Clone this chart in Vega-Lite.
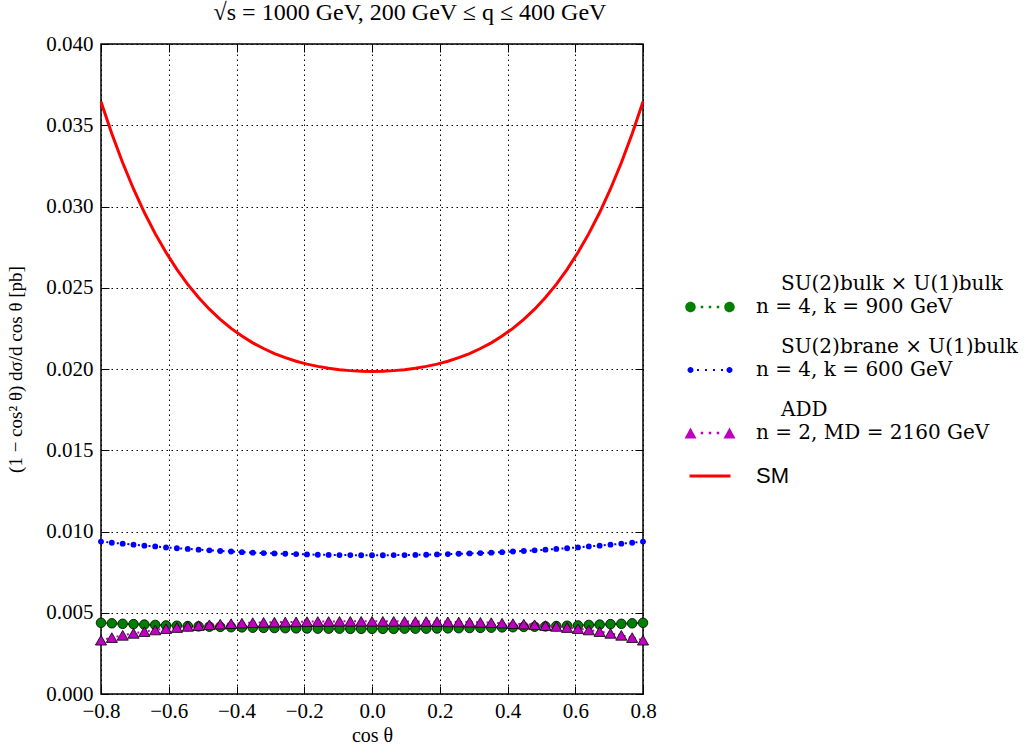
{
  "$schema": "https://vega.github.io/schema/vega-lite/v6.json",
  "width": 542,
  "height": 650,
  "autosize": "none",
  "padding": {"left": 101, "top": 44, "right": 391, "bottom": 57},
  "background": "white",
  "title": {"text": "√s = 1000 GeV, 200 GeV ≤ q ≤ 400 GeV", "font": "Liberation Serif", "fontSize": 24, "fontWeight": "normal", "color": "black", "offset": 8, "dx": 38},
  "config": {"view": {"stroke": "black", "strokeWidth": 1.5}},
  "data": {"values": [
    {"c":-0.8,"v":0.00438,"s":"bulk"},{"c":-0.768,"v":0.00435,"s":"bulk"},{"c":-0.736,"v":0.00432,"s":"bulk"},{"c":-0.704,"v":0.0043,"s":"bulk"},{"c":-0.672,"v":0.00427,"s":"bulk"},{"c":-0.64,"v":0.00425,"s":"bulk"},{"c":-0.608,"v":0.00422,"s":"bulk"},{"c":-0.576,"v":0.0042,"s":"bulk"},{"c":-0.544,"v":0.00418,"s":"bulk"},{"c":-0.512,"v":0.00416,"s":"bulk"},{"c":-0.48,"v":0.00414,"s":"bulk"},{"c":-0.448,"v":0.00413,"s":"bulk"},{"c":-0.416,"v":0.00411,"s":"bulk"},{"c":-0.384,"v":0.0041,"s":"bulk"},{"c":-0.352,"v":0.00408,"s":"bulk"},{"c":-0.32,"v":0.00407,"s":"bulk"},{"c":-0.288,"v":0.00406,"s":"bulk"},{"c":-0.256,"v":0.00405,"s":"bulk"},{"c":-0.224,"v":0.00404,"s":"bulk"},{"c":-0.192,"v":0.00403,"s":"bulk"},{"c":-0.16,"v":0.00402,"s":"bulk"},{"c":-0.128,"v":0.00402,"s":"bulk"},{"c":-0.096,"v":0.00402,"s":"bulk"},{"c":-0.064,"v":0.00401,"s":"bulk"},{"c":-0.032,"v":0.00401,"s":"bulk"},{"c":0,"v":0.00401,"s":"bulk"},{"c":0.032,"v":0.00401,"s":"bulk"},{"c":0.064,"v":0.00401,"s":"bulk"},{"c":0.096,"v":0.00402,"s":"bulk"},{"c":0.128,"v":0.00402,"s":"bulk"},{"c":0.16,"v":0.00402,"s":"bulk"},{"c":0.192,"v":0.00403,"s":"bulk"},{"c":0.224,"v":0.00404,"s":"bulk"},{"c":0.256,"v":0.00405,"s":"bulk"},{"c":0.288,"v":0.00406,"s":"bulk"},{"c":0.32,"v":0.00407,"s":"bulk"},{"c":0.352,"v":0.00408,"s":"bulk"},{"c":0.384,"v":0.0041,"s":"bulk"},{"c":0.416,"v":0.00411,"s":"bulk"},{"c":0.448,"v":0.00413,"s":"bulk"},{"c":0.48,"v":0.00414,"s":"bulk"},{"c":0.512,"v":0.00416,"s":"bulk"},{"c":0.544,"v":0.00418,"s":"bulk"},{"c":0.576,"v":0.0042,"s":"bulk"},{"c":0.608,"v":0.00422,"s":"bulk"},{"c":0.64,"v":0.00425,"s":"bulk"},{"c":0.672,"v":0.00427,"s":"bulk"},{"c":0.704,"v":0.0043,"s":"bulk"},{"c":0.736,"v":0.00432,"s":"bulk"},{"c":0.768,"v":0.00435,"s":"bulk"},{"c":0.8,"v":0.00438,"s":"bulk"},
    {"c":-0.8,"v":0.00938,"s":"brane"},{"c":-0.768,"v":0.00931,"s":"brane"},{"c":-0.736,"v":0.00925,"s":"brane"},{"c":-0.704,"v":0.00919,"s":"brane"},{"c":-0.672,"v":0.00913,"s":"brane"},{"c":-0.64,"v":0.00908,"s":"brane"},{"c":-0.608,"v":0.00902,"s":"brane"},{"c":-0.576,"v":0.00897,"s":"brane"},{"c":-0.544,"v":0.00893,"s":"brane"},{"c":-0.512,"v":0.00888,"s":"brane"},{"c":-0.48,"v":0.00884,"s":"brane"},{"c":-0.448,"v":0.0088,"s":"brane"},{"c":-0.416,"v":0.00877,"s":"brane"},{"c":-0.384,"v":0.00873,"s":"brane"},{"c":-0.352,"v":0.0087,"s":"brane"},{"c":-0.32,"v":0.00867,"s":"brane"},{"c":-0.288,"v":0.00865,"s":"brane"},{"c":-0.256,"v":0.00863,"s":"brane"},{"c":-0.224,"v":0.00861,"s":"brane"},{"c":-0.192,"v":0.00859,"s":"brane"},{"c":-0.16,"v":0.00857,"s":"brane"},{"c":-0.128,"v":0.00856,"s":"brane"},{"c":-0.096,"v":0.00855,"s":"brane"},{"c":-0.064,"v":0.00855,"s":"brane"},{"c":-0.032,"v":0.00854,"s":"brane"},{"c":0,"v":0.00854,"s":"brane"},{"c":0.032,"v":0.00854,"s":"brane"},{"c":0.064,"v":0.00855,"s":"brane"},{"c":0.096,"v":0.00855,"s":"brane"},{"c":0.128,"v":0.00856,"s":"brane"},{"c":0.16,"v":0.00857,"s":"brane"},{"c":0.192,"v":0.00859,"s":"brane"},{"c":0.224,"v":0.00861,"s":"brane"},{"c":0.256,"v":0.00863,"s":"brane"},{"c":0.288,"v":0.00865,"s":"brane"},{"c":0.32,"v":0.00867,"s":"brane"},{"c":0.352,"v":0.0087,"s":"brane"},{"c":0.384,"v":0.00873,"s":"brane"},{"c":0.416,"v":0.00877,"s":"brane"},{"c":0.448,"v":0.0088,"s":"brane"},{"c":0.48,"v":0.00884,"s":"brane"},{"c":0.512,"v":0.00888,"s":"brane"},{"c":0.544,"v":0.00893,"s":"brane"},{"c":0.576,"v":0.00897,"s":"brane"},{"c":0.608,"v":0.00902,"s":"brane"},{"c":0.64,"v":0.00908,"s":"brane"},{"c":0.672,"v":0.00913,"s":"brane"},{"c":0.704,"v":0.00919,"s":"brane"},{"c":0.736,"v":0.00925,"s":"brane"},{"c":0.768,"v":0.00931,"s":"brane"},{"c":0.8,"v":0.00938,"s":"brane"},
    {"c":-0.8,"v":0.00331,"s":"ADD"},{"c":-0.768,"v":0.00347,"s":"ADD"},{"c":-0.736,"v":0.00361,"s":"ADD"},{"c":-0.704,"v":0.00373,"s":"ADD"},{"c":-0.672,"v":0.00384,"s":"ADD"},{"c":-0.64,"v":0.00394,"s":"ADD"},{"c":-0.608,"v":0.00402,"s":"ADD"},{"c":-0.576,"v":0.00409,"s":"ADD"},{"c":-0.544,"v":0.00416,"s":"ADD"},{"c":-0.512,"v":0.00421,"s":"ADD"},{"c":-0.48,"v":0.00426,"s":"ADD"},{"c":-0.448,"v":0.0043,"s":"ADD"},{"c":-0.416,"v":0.00433,"s":"ADD"},{"c":-0.384,"v":0.00436,"s":"ADD"},{"c":-0.352,"v":0.00439,"s":"ADD"},{"c":-0.32,"v":0.00441,"s":"ADD"},{"c":-0.288,"v":0.00442,"s":"ADD"},{"c":-0.256,"v":0.00443,"s":"ADD"},{"c":-0.224,"v":0.00444,"s":"ADD"},{"c":-0.192,"v":0.00445,"s":"ADD"},{"c":-0.16,"v":0.00446,"s":"ADD"},{"c":-0.128,"v":0.00446,"s":"ADD"},{"c":-0.096,"v":0.00447,"s":"ADD"},{"c":-0.064,"v":0.00447,"s":"ADD"},{"c":-0.032,"v":0.00447,"s":"ADD"},{"c":0,"v":0.00447,"s":"ADD"},{"c":0.032,"v":0.00447,"s":"ADD"},{"c":0.064,"v":0.00447,"s":"ADD"},{"c":0.096,"v":0.00447,"s":"ADD"},{"c":0.128,"v":0.00446,"s":"ADD"},{"c":0.16,"v":0.00446,"s":"ADD"},{"c":0.192,"v":0.00445,"s":"ADD"},{"c":0.224,"v":0.00444,"s":"ADD"},{"c":0.256,"v":0.00443,"s":"ADD"},{"c":0.288,"v":0.00442,"s":"ADD"},{"c":0.32,"v":0.00441,"s":"ADD"},{"c":0.352,"v":0.00439,"s":"ADD"},{"c":0.384,"v":0.00436,"s":"ADD"},{"c":0.416,"v":0.00433,"s":"ADD"},{"c":0.448,"v":0.0043,"s":"ADD"},{"c":0.48,"v":0.00426,"s":"ADD"},{"c":0.512,"v":0.00421,"s":"ADD"},{"c":0.544,"v":0.00416,"s":"ADD"},{"c":0.576,"v":0.00409,"s":"ADD"},{"c":0.608,"v":0.00402,"s":"ADD"},{"c":0.64,"v":0.00394,"s":"ADD"},{"c":0.672,"v":0.00384,"s":"ADD"},{"c":0.704,"v":0.00373,"s":"ADD"},{"c":0.736,"v":0.00361,"s":"ADD"},{"c":0.768,"v":0.00347,"s":"ADD"},{"c":0.8,"v":0.00331,"s":"ADD"},
    {"c":-0.8,"v":0.03645,"s":"SM"},{"c":-0.768,"v":0.03448,"s":"SM"},{"c":-0.736,"v":0.03269,"s":"SM"},{"c":-0.704,"v":0.03108,"s":"SM"},{"c":-0.672,"v":0.02963,"s":"SM"},{"c":-0.64,"v":0.02833,"s":"SM"},{"c":-0.608,"v":0.02717,"s":"SM"},{"c":-0.576,"v":0.02613,"s":"SM"},{"c":-0.544,"v":0.02521,"s":"SM"},{"c":-0.512,"v":0.0244,"s":"SM"},{"c":-0.48,"v":0.02368,"s":"SM"},{"c":-0.448,"v":0.02306,"s":"SM"},{"c":-0.416,"v":0.0225,"s":"SM"},{"c":-0.384,"v":0.02203,"s":"SM"},{"c":-0.352,"v":0.02161,"s":"SM"},{"c":-0.32,"v":0.02126,"s":"SM"},{"c":-0.288,"v":0.02095,"s":"SM"},{"c":-0.256,"v":0.0207,"s":"SM"},{"c":-0.224,"v":0.02048,"s":"SM"},{"c":-0.192,"v":0.0203,"s":"SM"},{"c":-0.16,"v":0.02016,"s":"SM"},{"c":-0.128,"v":0.02004,"s":"SM"},{"c":-0.096,"v":0.01996,"s":"SM"},{"c":-0.064,"v":0.0199,"s":"SM"},{"c":-0.032,"v":0.01986,"s":"SM"},{"c":0,"v":0.01985,"s":"SM"},{"c":0.032,"v":0.01986,"s":"SM"},{"c":0.064,"v":0.0199,"s":"SM"},{"c":0.096,"v":0.01996,"s":"SM"},{"c":0.128,"v":0.02004,"s":"SM"},{"c":0.16,"v":0.02016,"s":"SM"},{"c":0.192,"v":0.0203,"s":"SM"},{"c":0.224,"v":0.02048,"s":"SM"},{"c":0.256,"v":0.0207,"s":"SM"},{"c":0.288,"v":0.02095,"s":"SM"},{"c":0.32,"v":0.02126,"s":"SM"},{"c":0.352,"v":0.02161,"s":"SM"},{"c":0.384,"v":0.02203,"s":"SM"},{"c":0.416,"v":0.0225,"s":"SM"},{"c":0.448,"v":0.02306,"s":"SM"},{"c":0.48,"v":0.02368,"s":"SM"},{"c":0.512,"v":0.0244,"s":"SM"},{"c":0.544,"v":0.02521,"s":"SM"},{"c":0.576,"v":0.02613,"s":"SM"},{"c":0.608,"v":0.02717,"s":"SM"},{"c":0.64,"v":0.02833,"s":"SM"},{"c":0.672,"v":0.02963,"s":"SM"},{"c":0.704,"v":0.03108,"s":"SM"},{"c":0.736,"v":0.03269,"s":"SM"},{"c":0.768,"v":0.03448,"s":"SM"},{"c":0.8,"v":0.03645,"s":"SM"}
  ]},
  "resolve": {"axis": {"x": "independent", "y": "independent"}},
  "layer": [
    {
      "transform": [{"filter": "datum.s === 'bulk'"}],
      "mark": {"type": "line", "strokeWidth": 2, "strokeDash": [2, 3.3], "strokeCap": "butt", "color": "#008000"},
      "encoding": {
        "x": {"field": "c", "type": "quantitative", "scale": {"domain": [-0.8, 0.8], "nice": false, "zero": false},
          "axis": {"orient": "bottom", "values": [-0.8, -0.6, -0.4, -0.2, 0, 0.2, 0.4, 0.6, 0.8], "format": ".1f", "title": "cos θ",
            "titleFont": "Liberation Serif", "titleFontSize": 20, "titleFontWeight": "normal", "titleColor": "black", "titlePadding": 4,
            "labelFont": "Liberation Serif", "labelFontSize": 21, "labelColor": "black", "labelFlush": false, "labelOverlap": false, "labelPadding": 14,
            "ticks": true, "tickSize": -8, "tickColor": "black", "tickWidth": 1, "domain": false,
            "grid": true, "gridColor": "black", "gridDash": [1.5, 3.5], "gridWidth": 1, "gridOpacity": 1}},
        "y": {"field": "v", "type": "quantitative", "scale": {"domain": [0, 0.04], "nice": false, "zero": false},
          "axis": {"orient": "left", "values": [0, 0.005, 0.01, 0.015, 0.02, 0.025, 0.03, 0.035, 0.04], "format": ".3f", "title": "(1 − cos² θ) dσ/d cos θ [pb]",
            "titleFont": "Liberation Serif", "titleFontSize": 19, "titleFontWeight": "normal", "titleColor": "black", "titlePadding": 20,
            "labelFont": "Liberation Serif", "labelFontSize": 21, "labelColor": "black", "labelFlush": false, "labelOverlap": false, "labelPadding": 16,
            "ticks": true, "tickSize": -8, "tickColor": "black", "tickWidth": 1, "domain": false,
            "grid": true, "gridColor": "black", "gridDash": [1.5, 3.5], "gridWidth": 1, "gridOpacity": 1}}
      }
    },
    {
      "transform": [{"filter": "datum.s === 'bulk'"}],
      "mark": {"type": "point", "shape": "circle", "filled": true, "fill": "#008000", "stroke": "black", "strokeWidth": 0.8, "size": 92, "opacity": 1},
      "encoding": {
        "x": {"field": "c", "type": "quantitative",
          "axis": {"orient": "top", "values": [-0.8, -0.6, -0.4, -0.2, 0, 0.2, 0.4, 0.6, 0.8], "labels": false, "title": null, "grid": false, "domain": false, "ticks": true, "tickSize": -8, "tickColor": "black", "tickWidth": 1}},
        "y": {"field": "v", "type": "quantitative",
          "axis": {"orient": "right", "values": [0, 0.005, 0.01, 0.015, 0.02, 0.025, 0.03, 0.035, 0.04], "labels": false, "title": null, "grid": false, "domain": false, "ticks": true, "tickSize": -8, "tickColor": "black", "tickWidth": 1}}
      }
    },
    {
      "transform": [{"filter": "datum.s === 'brane'"}],
      "mark": {"type": "line", "strokeWidth": 2, "strokeDash": [2, 3.3], "strokeCap": "butt", "color": "#0000ff"},
      "encoding": {
        "x": {"field": "c", "type": "quantitative", "axis": null},
        "y": {"field": "v", "type": "quantitative", "axis": null}
      }
    },
    {
      "transform": [{"filter": "datum.s === 'brane'"}],
      "mark": {"type": "point", "shape": "circle", "filled": true, "fill": "#0000ff", "strokeWidth": 0, "size": 34, "opacity": 1},
      "encoding": {
        "x": {"field": "c", "type": "quantitative", "axis": null},
        "y": {"field": "v", "type": "quantitative", "axis": null}
      }
    },
    {
      "transform": [{"filter": "datum.s === 'ADD'"}],
      "mark": {"type": "line", "strokeWidth": 2, "strokeDash": [2, 3.3], "strokeCap": "butt", "color": "#bf00bf"},
      "encoding": {
        "x": {"field": "c", "type": "quantitative", "axis": null},
        "y": {"field": "v", "type": "quantitative", "axis": null}
      }
    },
    {
      "transform": [{"filter": "datum.s === 'ADD'"}],
      "mark": {"type": "point", "shape": "triangle-up", "filled": true, "fill": "#bf00bf", "stroke": "black", "strokeWidth": 0.8, "size": 125, "opacity": 1},
      "encoding": {
        "x": {"field": "c", "type": "quantitative", "axis": null},
        "y": {"field": "v", "type": "quantitative", "axis": null}
      }
    },
    {
      "transform": [{"filter": "datum.s === 'SM'"}],
      "mark": {"type": "line", "strokeWidth": 3, "color": "#ff0000"},
      "encoding": {
        "x": {"field": "c", "type": "quantitative", "axis": null},
        "y": {"field": "v", "type": "quantitative", "axis": null}
      }
    },
    {
      "transform": [{"filter": "datum.c === 0"}],
      "mark": {"type": "point", "filled": true, "size": 100, "opacity": 0},
      "encoding": {
        "x": {"field": "c", "type": "quantitative", "axis": null},
        "y": {"field": "v", "type": "quantitative", "axis": null},
        "color": {"field": "s", "type": "nominal", "scale": {"domain": ["bulk", "brane", "ADD", "SM"], "range": ["#008000", "#0000ff", "#bf00bf", "#ff0000"]},
          "legend": {"orient": "none", "legendX": 599, "legendY": 253, "title": null, "padding": 0, "symbolSize": 100, "symbolStrokeWidth": 0, "symbolOpacity": 1,
            "labelFont": "DejaVu Serif", "labelFontSize": 20, "labelColor": "black", "labelLimit": 500, "labelOffset": 36, "labelBaseline": "middle", "rowPadding": -3,
            "labelExpr": "datum.value === 'bulk' ? ['\u200b\u2003\u2005SU(2)bulk × U(1)bulk', 'n = 4, k = 900 GeV', ''] : datum.value === 'brane' ? ['\u200b\u2003\u2005SU(2)brane × U(1)bulk', 'n = 4, k = 600 GeV', ''] : datum.value === 'ADD' ? ['\u200b\u2003\u2005ADD', 'n = 2, MD = 2160 GeV', ''] : 'SM'",
            "encode": {"symbols": {"update": {"opacity": {"value": 1}}}, "labels": {"update": {"lineHeight": {"value": 23}, "dy": {"signal": "datum.value === 'SM' ? 0 : -23"}, "font": {"signal": "datum.value === 'SM' ? 'Liberation Sans' : 'DejaVu Serif'"}, "fontSize": {"signal": "datum.value === 'SM' ? 22 : 20"}}}}}},
        "shape": {"field": "s", "type": "nominal", "scale": {"domain": ["bulk", "brane", "ADD", "SM"], "range": [
          "M-4.95,0A1.05,1.05,0,1,1,-2.85,0A1.05,1.05,0,1,1,-4.95,0Z M2.85,0A1.05,1.05,0,1,1,4.95,0A1.05,1.05,0,1,1,2.85,0Z M-1.85,-0.25H-1.35V0.25H-1.85Z M-0.25,-0.25H0.25V0.25H-0.25Z M1.35,-0.25H1.85V0.25H1.35Z",
          "M-4.5,0A0.6,0.6,0,1,1,-3.3,0A0.6,0.6,0,1,1,-4.5,0Z M3.3,0A0.6,0.6,0,1,1,4.5,0A0.6,0.6,0,1,1,3.3,0Z M-2.6,-0.2H-2.2V0.2H-2.6Z M-1,-0.2H-0.6V0.2H-1Z M0.6,-0.2H1V0.2H0.6Z M2.2,-0.2H2.6V0.2H2.2Z",
          "M-3.9,-1.1L-2.7,1.1L-5.1,1.1Z M3.9,-1.1L5.1,1.1L2.7,1.1Z M-1.85,-0.25H-1.35V0.25H-1.85Z M-0.25,-0.25H0.25V0.25H-0.25Z M1.35,-0.25H1.85V0.25H1.35Z",
          "M-4.1,-0.3H4.1V0.3H-4.1Z"]}}
      }
    }
  ]
}
